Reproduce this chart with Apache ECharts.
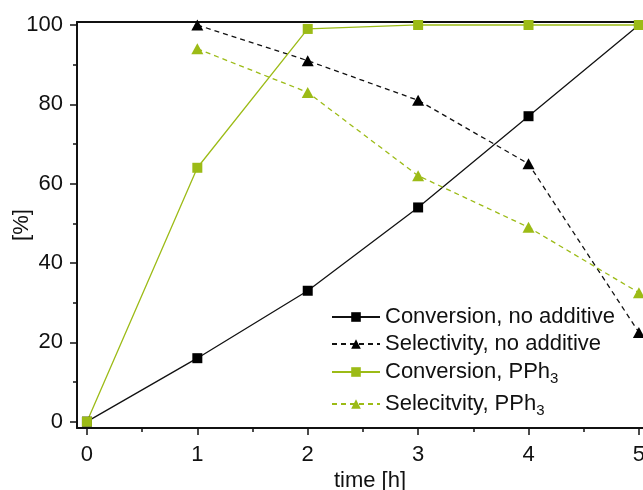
<!DOCTYPE html>
<html>
<head>
<meta charset="utf-8">
<script src="https://cdn.jsdelivr.net/npm/echarts@6/dist/echarts.min.js"></script>
<style>html,body{margin:0;padding:0;background:#fff}#c{width:643px;height:490px}</style>
</head>
<body>
<div id="c"></div>
<script>
const times = [0, 1, 2, 3, 4, 5];
const convNoAdd = [0, 16, 33, 54, 77, 100];
const selNoAdd = [null, 100, 91, 81, 65, 22.5];
const convPPh3 = [0, 64, 99, 100, 100, 100];
const selPPh3 = [null, 94, 83, 62, 49, 32.5];
const xTicks = [0, 1, 2, 3, 4, 5];
const xMinor = [0.5, 1.5, 2.5, 3.5, 4.5];
const yTicks = [0, 20, 40, 60, 80, 100];
const yMinor = [10, 30, 50, 70, 90];
const names = ['Conversion, no additive', 'Selectivity, no additive', 'Conversion, PPh3', 'Selecitvity, PPh3'];

const GREEN = '#9cbb16';
const FONT = 'Liberation Sans, Arial, sans-serif';
const FS = 22;
const XMIN = -0.09, XMAX = 5.037, YMIN = -1.6, YMAX = 100.75;

function pairs(ys) { return times.map((t, i) => [t, ys[i]]).filter(p => p[1] !== null); }

const chart = echarts.init(document.getElementById('c'));
const axisLineStyle = { color: '#111', width: 2 };
const legendBase = {
  orient: 'vertical', left: 331, itemWidth: 48, itemHeight: 12, itemGap: 0, padding: 0,
  selectedMode: false,
  textStyle: { fontFamily: FONT, fontSize: FS, color: '#111',
    rich: { sub: { fontFamily: FONT, fontSize: 15, color: '#111', padding: [14, 0, 0, 0] } } },
  formatter: n => n.replace('PPh3', 'PPh{sub|3}')
};
const tops = [306, 333, 361, 393];
chart.setOption({
  animation: false,
  grid: { left: 77, right: 0, top: 22, bottom: 62, outerBoundsMode: 'none', containLabel: false },
  legend: names.map((n, i) => Object.assign({}, legendBase, { top: tops[i], data: [n] })),
  xAxis: [
    { type: 'value', position: 'bottom', min: XMIN, max: XMAX,
      axisLine: { show: true, onZero: false, lineStyle: axisLineStyle },
      axisTick: { show: true, inside: false, length: 7, lineStyle: { color: '#111', width: 1.5 }, customValues: xTicks },
      axisLabel: { show: true, margin: 16, fontFamily: FONT, fontSize: FS, color: '#111', customValues: xTicks },
      splitLine: { show: false },
      name: 'time [h]', nameLocation: 'middle', nameGap: 42, nameMoveOverlap: false,
      nameTextStyle: { fontFamily: FONT, fontSize: FS, color: '#111', padding: [0, 0, 0, 20] } },
    { type: 'value', position: 'top', min: XMIN, max: XMAX,
      axisLine: { show: true, onZero: false, lineStyle: axisLineStyle },
      axisTick: { show: false }, axisLabel: { show: false }, splitLine: { show: false } },
    { type: 'value', position: 'bottom', min: XMIN, max: XMAX,
      axisLine: { show: false, onZero: false },
      axisTick: { show: true, length: 4, lineStyle: { color: '#111', width: 1.5 }, customValues: xMinor },
      axisLabel: { show: false }, splitLine: { show: false } }
  ],
  yAxis: [
    { type: 'value', min: YMIN, max: YMAX,
      axisLine: { show: true, onZero: false, lineStyle: axisLineStyle },
      axisTick: { show: true, length: 7, lineStyle: { color: '#111', width: 1.5 }, customValues: yTicks },
      axisLabel: { show: true, margin: 14, fontFamily: FONT, fontSize: FS, color: '#111', customValues: yTicks },
      splitLine: { show: false },
      name: '[%]', nameLocation: 'middle', nameGap: 44, nameMoveOverlap: false,
      nameTextStyle: { fontFamily: FONT, fontSize: FS, color: '#111' } },
    { type: 'value', min: YMIN, max: YMAX, position: 'left',
      axisLine: { show: false, onZero: false },
      axisTick: { show: true, length: 4, lineStyle: { color: '#111', width: 1.5 }, customValues: yMinor },
      axisLabel: { show: false }, splitLine: { show: false } }
  ],
  series: [
    { name: names[0], type: 'line', data: pairs(convNoAdd), symbol: 'rect', symbolSize: 10, clip: false,
      lineStyle: { color: '#111', width: 1.3, type: 'solid' }, itemStyle: { color: '#000' } },
    { name: names[1], type: 'line', data: pairs(selNoAdd), symbol: 'triangle', symbolSize: [12, 11], clip: false,
      lineStyle: { color: '#111', width: 1.3, type: [5, 4] }, itemStyle: { color: '#000' } },
    { name: names[2], type: 'line', data: pairs(convPPh3), symbol: 'rect', symbolSize: 10, clip: false,
      lineStyle: { color: GREEN, width: 1.3, type: 'solid' }, itemStyle: { color: GREEN } },
    { name: names[3], type: 'line', data: pairs(selPPh3), symbol: 'triangle', symbolSize: [12, 11], clip: false,
      lineStyle: { color: GREEN, width: 1.3, type: [5, 4] }, itemStyle: { color: GREEN } }
  ]
});
</script>
</body>
</html>
